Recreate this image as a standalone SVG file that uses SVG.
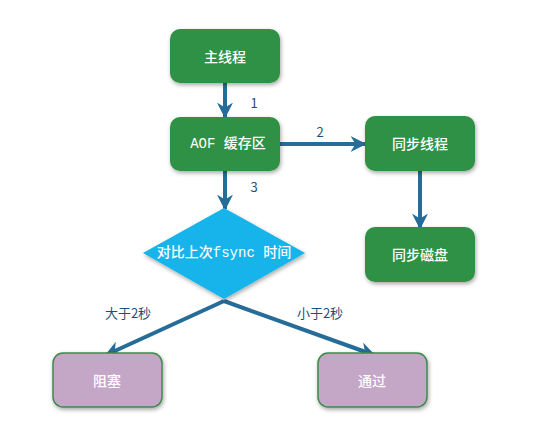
<svg xmlns="http://www.w3.org/2000/svg" width="548" height="441" viewBox="0 0 548 441">
<defs>
<filter id="sh" x="-20%" y="-20%" width="140%" height="150%">
<feDropShadow dx="1" dy="2" stdDeviation="2" flood-color="#000" flood-opacity="0.35"/>
</filter>
<marker id="ah" viewBox="0 0 10 10" refX="9" refY="5" markerWidth="4" markerHeight="4" orient="auto" markerUnits="strokeWidth">
<path d="M0,0 L10,5 L0,10 L3,5 z" fill="#266c99"/>
</marker>
<style>
.g{fill:#2e9144;filter:url(#sh)}
.p{fill:#c4a6c7;stroke:#3d8a4c;stroke-width:1.5;filter:url(#sh)}
.d{fill:#14b4ea;filter:url(#sh)}
.t{font-family:"Noto Sans CJK SC","Noto Sans",sans-serif;font-size:14px;fill:#fff;font-weight:500;text-anchor:middle;dominant-baseline:central}
.m{font-family:"Liberation Mono","Noto Sans CJK SC",monospace;font-size:14px;fill:#fff;font-weight:500;text-anchor:middle;dominant-baseline:central}
.l{font-family:"Noto Sans CJK SC","Noto Sans",sans-serif;font-size:13px;fill:#1f4e79;text-anchor:middle;dominant-baseline:central}
.c{stroke:#266c99;stroke-width:4;fill:none;marker-end:url(#ah)}
</style>
</defs>
<rect width="548" height="441" fill="#fff"/>
<g id="connectors">
<line class="c" x1="225" y1="83" x2="225" y2="117"/>
<line class="c" x1="225" y1="170" x2="225" y2="209"/>
<line class="c" x1="279" y1="144" x2="365" y2="144"/>
<line class="c" x1="420" y1="171" x2="420" y2="228"/>
<line class="c" x1="224" y1="301" x2="106" y2="355"/>
<line class="c" x1="224" y1="301" x2="374" y2="355"/>
<text class="l" x="254" y="102">1</text>
<text class="l" x="254" y="186">3</text>
<text class="l" x="320" y="131">2</text>
<text class="l" x="128" y="312">大于2秒</text>
<text class="l" x="320" y="312">小于2秒</text>
</g>
<g id="main"><rect class="g" x="170" y="29" width="110" height="54" rx="10"/><text class="t" x="225" y="56">主线程</text></g>
<g id="aof"><rect class="g" x="170" y="117" width="110" height="54" rx="10"/><text class="m" x="228" y="144">AOF 缓存区</text></g>
<g id="syncthread"><rect class="g" x="365" y="116" width="110" height="55" rx="10"/><text class="t" x="420" y="143">同步线程</text></g>
<g id="syncdisk"><rect class="g" x="365" y="227" width="110" height="55" rx="10"/><text class="t" x="420" y="254">同步磁盘</text></g>
<g id="compare"><polygon class="d" points="224,208 305,253 224,299 143,253"/><text class="m" x="224" y="253">对比上次fsync 时间</text></g>
<g id="block"><rect class="p" x="53" y="353" width="109" height="54" rx="10"/><text class="t" x="107" y="380">阻塞</text></g>
<g id="pass"><rect class="p" x="318" y="353" width="109" height="54" rx="10"/><text class="t" x="372" y="380">通过</text></g>
</svg>
